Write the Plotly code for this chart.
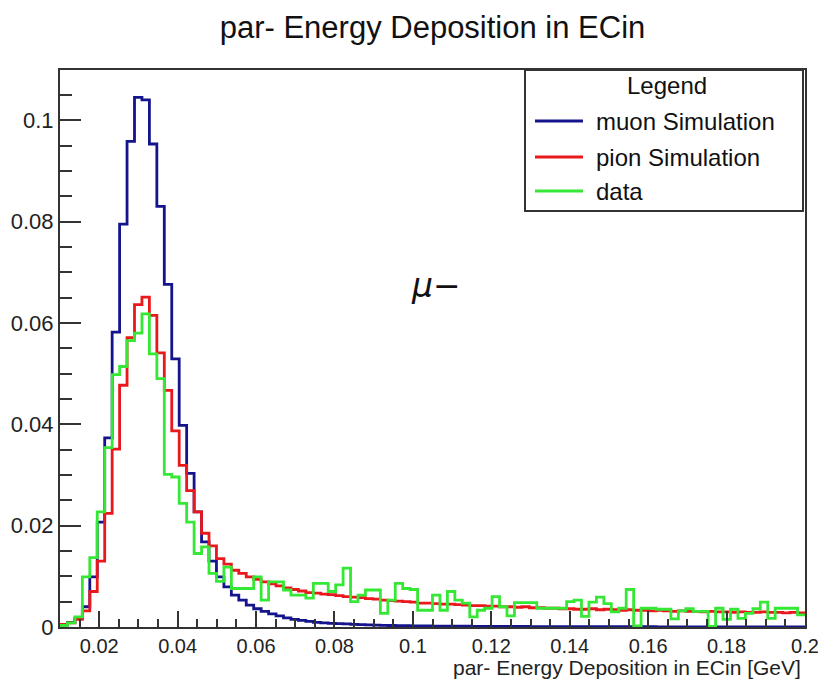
import numpy as np
import plotly.graph_objects as go

# ---- data (100 bins from 0.01 to 0.2 GeV) ----
x_min = 0.01
x_max = 0.2
n_bins = 100

muon_sim = [
    0.0005, 0.0009, 0.0017, 0.0040, 0.0099, 0.0207, 0.0373, 0.0582, 0.0795, 0.0958,
    0.1045, 0.1040, 0.0953, 0.0830, 0.0676, 0.0529, 0.0398, 0.0303, 0.0227, 0.0168,
    0.0130, 0.0099, 0.0079, 0.0063, 0.0053, 0.0043, 0.0036, 0.0031, 0.0026, 0.0022,
    0.0018, 0.0015, 0.0013, 0.0011, 0.0009, 0.0008, 0.0007, 0.00066, 0.0006, 0.0005,
    0.00045, 0.0004, 0.00037, 0.00034, 0.0003, 0.00028, 0.00026, 0.00024, 0.00022, 0.0002,
    0.00019, 0.00018, 0.00017, 0.00016, 0.00015, 0.00014, 0.00013, 0.00013, 0.00012, 0.00011,
    0.00011, 0.0001, 0.0001, 0.00009, 0.00009, 0.00008, 0.00008, 0.00008, 0.00007, 0.00007,
    0.00007, 0.00006, 0.00006, 0.00006, 0.00006, 0.00005, 0.00005, 0.00005, 0.00005, 0.00005,
    0.00004, 0.00004, 0.00004, 0.00004, 0.00004, 0.00004, 0.00003, 0.00003, 0.00003, 0.00003,
    0.00003, 0.00003, 0.00003, 0.00002, 0.00002, 0.00002, 0.00002, 0.00002, 0.00002, 0.00002,
]

pion_sim = [
    0.0005, 0.0008, 0.0015, 0.0032, 0.0070, 0.0130, 0.0224, 0.0351, 0.0477, 0.0571,
    0.0636, 0.0651, 0.0615, 0.0541, 0.0467, 0.0387, 0.0319, 0.0269, 0.0227, 0.0185,
    0.0160, 0.0135, 0.0124, 0.0112, 0.0106, 0.0099, 0.0094, 0.0089, 0.0085, 0.0081,
    0.0077, 0.0074, 0.0071, 0.0068, 0.0067, 0.0065, 0.0064, 0.0062, 0.0060, 0.0059,
    0.0058, 0.0056, 0.0055, 0.0053, 0.0052, 0.0051, 0.0050, 0.0049, 0.0047, 0.0047,
    0.0046, 0.0045, 0.0045, 0.0044, 0.0043, 0.0042, 0.0042, 0.0041, 0.0041, 0.0040,
    0.0040, 0.0039, 0.0040, 0.0038, 0.0038, 0.0037, 0.0037, 0.0036, 0.0036, 0.0035,
    0.0035, 0.0036, 0.0034, 0.0035, 0.0034, 0.0033, 0.0034, 0.0033, 0.0033, 0.0032,
    0.0033, 0.0032, 0.0031, 0.0032, 0.0031, 0.0031, 0.0030, 0.0031, 0.0030, 0.0030,
    0.0029, 0.0030, 0.0029, 0.0029, 0.0030, 0.0029, 0.0029, 0.0028, 0.0029, 0.0028,
]

data_vals = [
    0.0003, 0.0008, 0.0020, 0.0099, 0.0137, 0.0227, 0.0354, 0.0498, 0.0514, 0.0565,
    0.0580, 0.0618, 0.0539, 0.0490, 0.0301, 0.0296, 0.0244, 0.0207, 0.0145, 0.0158,
    0.0106, 0.0090, 0.0118, 0.0076, 0.0076, 0.0076, 0.0099, 0.0053, 0.0089, 0.0089,
    0.0073, 0.0063, 0.0063, 0.0057, 0.0086, 0.0086, 0.0070, 0.0083, 0.0116, 0.0050,
    0.0063, 0.0073, 0.0073, 0.0027, 0.0053, 0.0086, 0.0076, 0.0074, 0.0033, 0.0033,
    0.0063, 0.0033, 0.0070, 0.0053, 0.0047, 0.0020, 0.0033, 0.0037, 0.0060, 0.0040,
    0.0022, 0.0048, 0.0048, 0.0048, 0.0037, 0.0037, 0.0037, 0.0037, 0.0050, 0.0053,
    0.0021, 0.0049, 0.0059, 0.0046, 0.0030, 0.0037, 0.0074, 0.0002, 0.0037, 0.0037,
    0.0035, 0.0035, 0.0016, 0.0032, 0.0036, 0.0031, 0.0031, 0.0001, 0.0037, 0.0015,
    0.0035, 0.0017, 0.0027, 0.0036, 0.0049, 0.0017, 0.0037, 0.0037, 0.0037, 0.0024,
]

series_names = ["muon Simulation", "pion Simulation", "data"]
series_colors = ["#14148c", "#e8181c", "#35e835"]
x_tick_vals = [0.02, 0.04, 0.06, 0.08, 0.1, 0.12, 0.14, 0.16, 0.18, 0.2]
x_tick_text = ["0.02", "0.04", "0.06", "0.08", "0.1", "0.12", "0.14", "0.16", "0.18", "0.2"]
y_tick_vals = [0, 0.02, 0.04, 0.06, 0.08, 0.1]
y_tick_text = ["0", "0.02", "0.04", "0.06", "0.08", "0.1"]

edges = np.linspace(x_min, x_max, n_bins + 1)

fig = go.Figure()
for name, vals, col in zip(series_names, [muon_sim, pion_sim, data_vals], series_colors):
    xs = list(edges)
    ys = list(vals) + [vals[-1]]
    fig.add_trace(go.Scatter(x=xs, y=ys, mode="lines", line=dict(color=col, width=2.8, shape="hv"),
                             name=name, showlegend=False, hoverinfo="skip"))

FONT = "Liberation Sans, Arial, sans-serif"
AX = "#333333"

fig.update_layout(
    width=818, height=679,
    margin=dict(l=60, r=13, t=70, b=52),
    paper_bgcolor="white", plot_bgcolor="white",
    title=dict(text="par- Energy Deposition in ECin", x=0.5, xref="paper", y=1 - 27 / 679,
               yref="container", xanchor="center", yanchor="middle",
               font=dict(family=FONT, size=31, color="#111111")),
    font=dict(family=FONT, color="#222222"),
)

fig.update_xaxes(range=[x_min, x_max + 1e-7], showgrid=False, zeroline=False, automargin=False,
                 showline=True, linecolor=AX, linewidth=2, mirror=True,
                 tickmode="array", tickvals=x_tick_vals, ticktext=x_tick_text,
                 ticks="inside", ticklen=16, tickwidth=2, tickcolor=AX,
                 tickfont=dict(family=FONT, size=20, color="#222222"),
                 ticklabelstandoff=0, ticklabeloverflow="allow",
                 minor=dict(ticks="inside", ticklen=8, tickwidth=2, tickcolor=AX, dtick=0.005, tick0=0))
fig.update_yaxes(range=[0, 0.1099], showgrid=False, zeroline=False, automargin=False,
                 showline=True, linecolor=AX, linewidth=2, mirror=True,
                 tickmode="array", tickvals=y_tick_vals, ticktext=y_tick_text,
                 ticks="inside", ticklen=21, tickwidth=2, tickcolor=AX,
                 tickfont=dict(family=FONT, size=22, color="#222222"),
                 ticklabelstandoff=0,
                 minor=dict(ticks="inside", ticklen=12, tickwidth=2, tickcolor=AX, dtick=0.005, tick0=0))

# x-axis title (ROOT style, right aligned)
fig.add_annotation(text="par- Energy Deposition in ECin [GeV]", xref="paper", yref="paper",
                   x=0.997, y=(627 - 667) / 557, xanchor="right", yanchor="middle", showarrow=False,
                   font=dict(family=FONT, size=21, color="#222222"))

# mu- label
fig.add_annotation(text="<i>μ</i>−", xref="paper", yref="paper",
                   x=(436 - 60) / 745, y=(627 - 285) / 557, xanchor="center", yanchor="middle",
                   showarrow=False, font=dict(family="DejaVu Sans", size=33, color="#111111"))

# legend box (ROOT TLegend)
def px(v):
    return (v - 60) / 745

def py(v):
    return (627 - v) / 557

fig.add_shape(type="rect", xref="paper", yref="paper", x0=px(525), x1=px(803), y0=py(211), y1=py(70),
              line=dict(color="#333333", width=2), fillcolor="white", layer="above")
fig.add_annotation(text="Legend", xref="paper", yref="paper", x=px(667), y=py(86),
                   xanchor="center", yanchor="middle", showarrow=False,
                   font=dict(family=FONT, size=24, color="#111111"))
row_y = [121, 157, 191]
for name, col, ry in zip(series_names, series_colors, row_y):
    fig.add_shape(type="line", xref="paper", yref="paper", x0=px(535), x1=px(583), y0=py(ry), y1=py(ry),
                  line=dict(color=col, width=2.8), layer="above")
    fig.add_annotation(text=name, xref="paper", yref="paper", x=px(594), y=py(ry),
                       xanchor="left", yanchor="middle", showarrow=False,
                       font=dict(family=FONT, size=24, color="#111111"))

fig.write_html("out.html")
